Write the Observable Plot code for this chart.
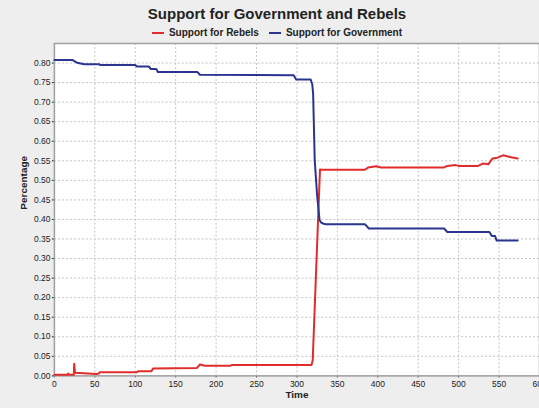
<!DOCTYPE html>
<html><head><meta charset="utf-8">
<script src="https://cdn.jsdelivr.net/npm/d3@7"></script>
<script src="https://cdn.jsdelivr.net/npm/@observablehq/plot@0.6"></script>
<style>
html,body{margin:0;padding:0;background:#eeeeee;width:539px;height:408px;overflow:hidden;font-family:"Liberation Sans",Arial,sans-serif;}
#wrap{position:relative;width:539px;height:408px;overflow:hidden;}
#title{position:absolute;left:0;top:5px;width:554px;text-align:center;font-size:15px;font-weight:bold;line-height:18px;color:#222;}
#legend{position:absolute;left:0;top:27px;width:554px;display:flex;justify-content:center;align-items:center;font-size:10px;font-weight:bold;line-height:12px;color:#222;}
.item{display:flex;align-items:center;margin:0 5px;}
.sw{width:12px;height:2px;margin-right:5px;}
#chart{position:absolute;left:0;top:40px;}
</style>
</head><body>
<div id="wrap">
  <div id="title">Support for Government and Rebels</div>
  <div id="legend"></div>
  <div id="chart"></div>
</div>
<script>
const seriesNames = ["Support for Rebels", "Support for Government"];
const seriesColors = ["#e22b2b", "#2a3590"];

const rebelTime  = [0, 16, 17, 18, 24, 24.5, 25.5, 52, 55, 56, 102, 104, 120, 122, 176, 180, 186, 218, 220, 318, 319.5, 328.5, 331, 384, 388, 398, 404, 482, 486, 496, 500, 524, 530, 537, 539, 542, 548, 555, 565, 573];
const rebelValue = [0.003, 0.003, 0.006, 0.003, 0.003, 0.031, 0.008, 0.005, 0.006, 0.0095, 0.0095, 0.012, 0.012, 0.019, 0.020, 0.029, 0.026, 0.026, 0.028, 0.028, 0.04, 0.528, 0.527, 0.527, 0.533, 0.536, 0.533, 0.533, 0.537, 0.539, 0.537, 0.537, 0.543, 0.541, 0.548, 0.556, 0.558, 0.564, 0.559, 0.556];

const govTime  = [0, 22, 28, 37, 55, 57, 100, 102, 117, 119, 126, 128, 177, 180, 296, 299, 317, 319, 320, 322, 325, 328, 330, 333, 336, 384, 389, 482, 486, 538, 541, 545, 547, 573];
const govValue = [0.808, 0.808, 0.801, 0.797, 0.797, 0.795, 0.795, 0.791, 0.791, 0.785, 0.785, 0.777, 0.777, 0.770, 0.769, 0.758, 0.758, 0.745, 0.722, 0.551, 0.46, 0.398, 0.392, 0.389, 0.388, 0.388, 0.377, 0.377, 0.368, 0.368, 0.358, 0.358, 0.346, 0.346];

const xTicks = [0, 50, 100, 150, 200, 250, 300, 350, 400, 450, 500, 550, 600];
const yTicks = [0, 0.05, 0.10, 0.15, 0.20, 0.25, 0.30, 0.35, 0.40, 0.45, 0.50, 0.55, 0.60, 0.65, 0.70, 0.75, 0.80];

const rebels = rebelTime.map((t, i) => ({t, v: rebelValue[i]}));
const gov = govTime.map((t, i) => ({t, v: govValue[i]}));

// legend
const leg = document.getElementById("legend");
seriesNames.forEach((n, i) => {
  const it = document.createElement("div"); it.className = "item";
  const sw = document.createElement("div"); sw.className = "sw"; sw.style.background = seriesColors[i];
  const tx = document.createElement("span"); tx.textContent = n;
  it.appendChild(sw); it.appendChild(tx); leg.appendChild(it);
});

const chart = Plot.plot({
  width: 540, height: 368,
  marginTop: 3, marginLeft: 54, marginRight: 0, marginBottom: 32,
  style: {background: "transparent", fontFamily: "'Liberation Sans', Arial, sans-serif", fontSize: "8.5px", color: "#1a1a1a", overflow: "visible"},
  x: {domain: [0, 600], ticks: xTicks, tickSize: 2, tickPadding: 3, tickFormat: d => String(d), label: null},
  y: {domain: [0, 0.85], ticks: yTicks, tickSize: 2, tickPadding: 2, tickFormat: d3.format(".2f"), label: null},
  marks: [
    Plot.frame({fill: "white", stroke: "none"}),
    Plot.ruleX(xTicks, {stroke: "#c4c4c4", strokeDasharray: "2,2", strokeWidth: 1}),
    Plot.ruleY(yTicks, {stroke: "#c4c4c4", strokeDasharray: "2,2", strokeWidth: 1}),
    Plot.frame({stroke: "#a0a0a0", strokeWidth: 1.5}),
    Plot.line(rebels, {x: "t", y: "v", stroke: seriesColors[0], strokeWidth: 2}),
    Plot.line(gov, {x: "t", y: "v", stroke: seriesColors[1], strokeWidth: 2}),
    Plot.text(["Time"], {frameAnchor: "bottom", dy: 22, fontSize: 10, fontWeight: "bold", fill: "#222"}),
    Plot.text(["Percentage"], {frameAnchor: "left", dx: -31, rotate: -90, fontSize: 10, fontWeight: "bold", fill: "#222"})
  ]
});
document.getElementById("chart").appendChild(chart);
</script>
</body></html>
